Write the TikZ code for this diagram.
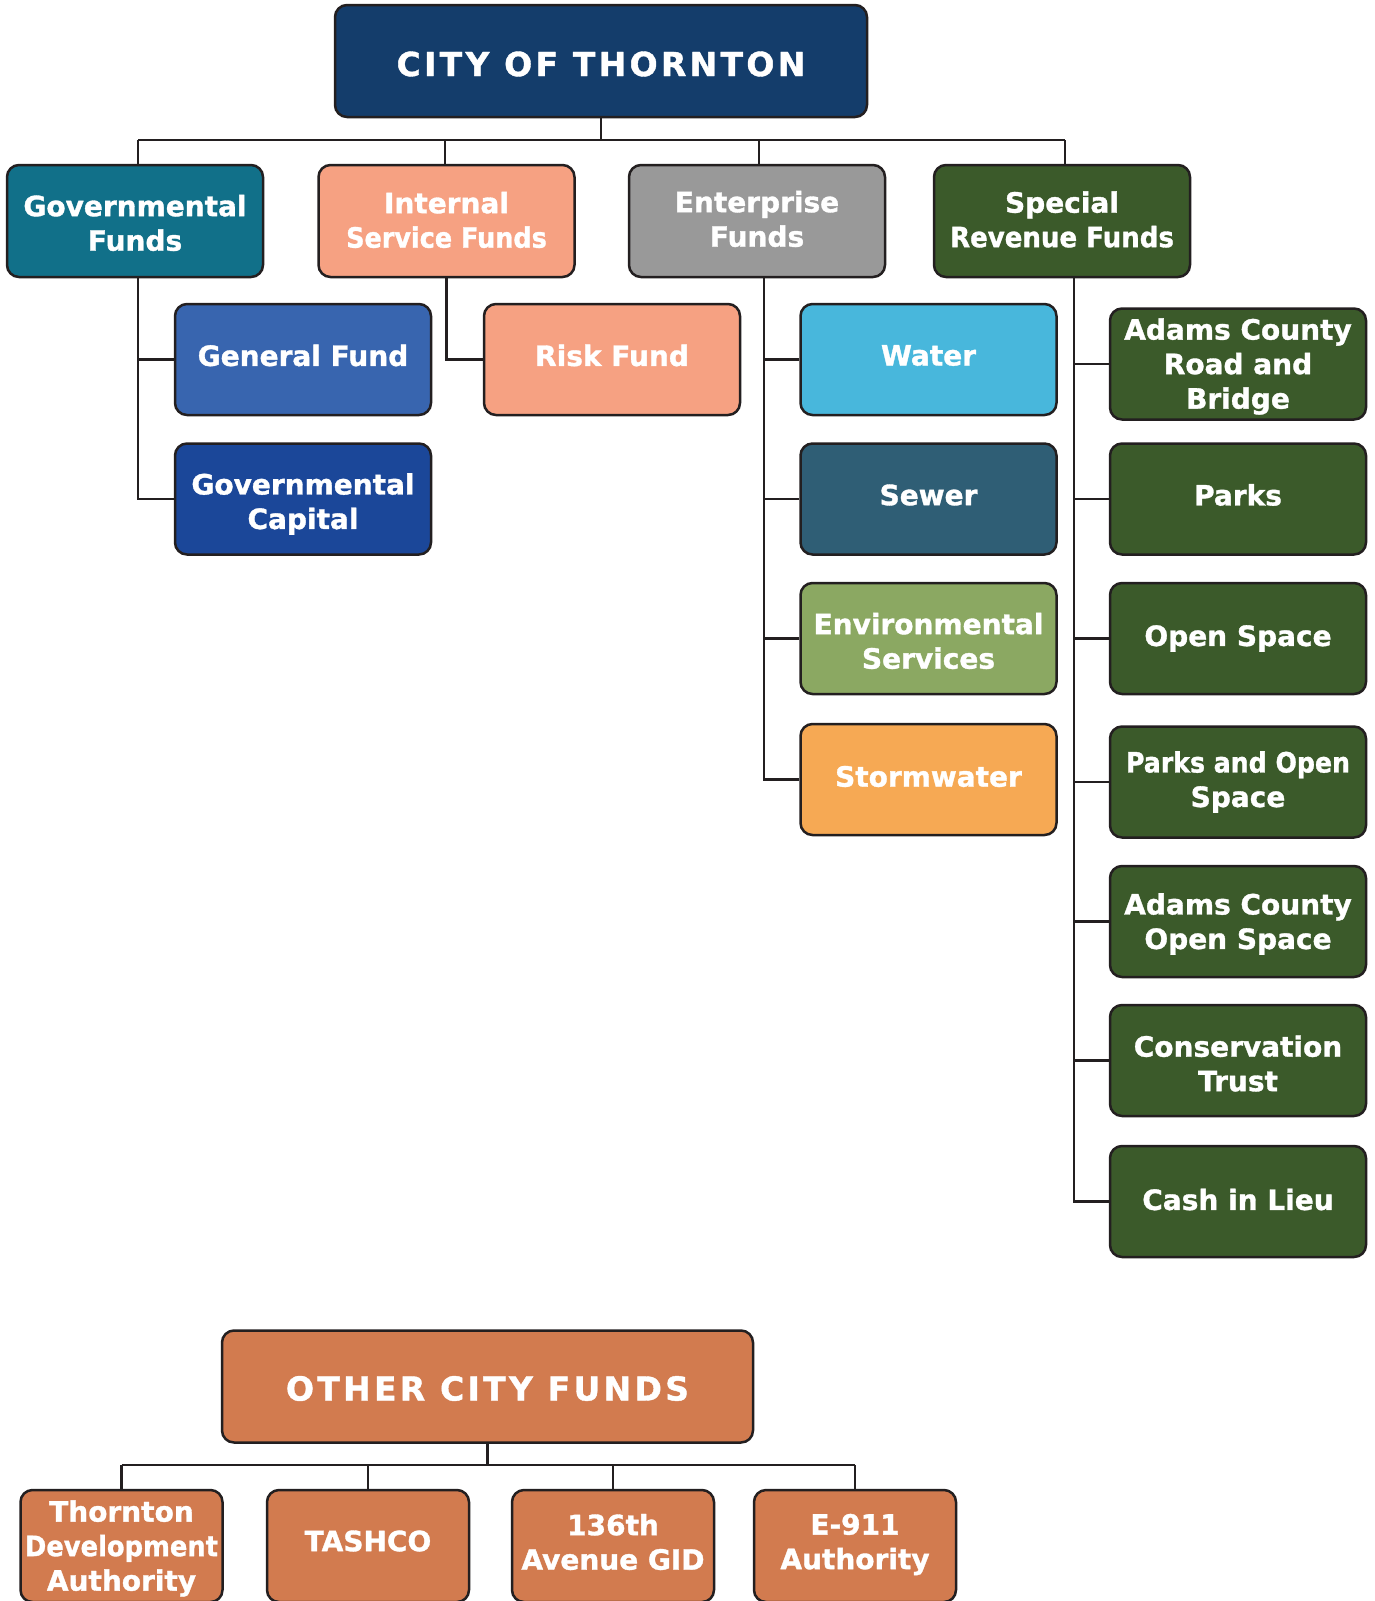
\documentclass[tikz,border=0pt]{standalone}
\usepackage{fontspec}
\usepackage{graphicx}
\newfontfamily\boxfont{DejaVu Sans}[BoldFeatures={FakeBold=1.2}]
\newfontfamily\titlefont{DejaVu Sans}[LetterSpace=10,BoldFeatures={FakeBold=1.2}]
\definecolor{linec}{HTML}{231F20}
\definecolor{cnavy}{HTML}{143D6B}
\definecolor{cteal}{HTML}{117089}
\definecolor{csalmon}{HTML}{F6A182}
\definecolor{cgray}{HTML}{999999}
\definecolor{cgreen}{HTML}{3B5A2A}
\definecolor{cgenf}{HTML}{3865AF}
\definecolor{cgovc}{HTML}{1B4799}
\definecolor{cwater}{HTML}{48B7DC}
\definecolor{csewer}{HTML}{2F5E75}
\definecolor{cenv}{HTML}{8BA862}
\definecolor{cstorm}{HTML}{F6A954}
\definecolor{cother}{HTML}{D27B4F}
\tikzset{
  box/.style={draw=linec, line width=2.5pt, rounded corners=12pt, inner sep=0pt,
    minimum width=256pt, minimum height=111pt},
  titlebox/.style={box, minimum width=532pt, minimum height=112pt},
  lowbox/.style={box, minimum width=202pt, minimum height=112pt},
  txt/.style={inner sep=0pt, align=center, text=white,
    font=\boxfont\bfseries\fontsize{28}{34.5}\selectfont},
  titletxt/.style={inner sep=0pt, text=white,
    font=\titlefont\bfseries\fontsize{33}{40}\selectfont},
  conn/.style={draw=linec, line width=2.5pt}
}
% name, box style, fill, x, y, text, text shift
\newcommand\bx[7]{%
  \node[#2, fill=#3] (#1) at (#4,#5) {};
  \node[txt] (#1-t) at ([yshift=#7pt]#1.center) {#6};}
\begin{document}
\begin{tikzpicture}[x=1pt,y=-1pt]
\useasboundingbox (0,0) rectangle (1374,1601);
\clip (0,0) rectangle (1374,1601);
% top level
\node[titlebox, fill=cnavy] (city) at (601,61) {};
\node[titletxt] (city-t) at ([yshift=-3pt]city.center) {CITY OF THORNTON};
\bx{gov}{box,minimum height=112pt}{cteal}{135}{221}{Governmental\\Funds}{-2}
\bx{isf}{box,minimum height=112pt}{csalmon}{446.5}{221}{Internal\\\scalebox{0.91}[1]{Service Funds}}{1}
\bx{ent}{box,minimum height=112pt}{cgray}{757}{221}{Enterprise\\Funds}{2}
\bx{srf}{box,minimum height=112pt}{cgreen}{1062}{221}{Special\\\scalebox{0.93}[1]{Revenue Funds}}{1.5}
% governmental children
\bx{genf}{box}{cgenf}{303}{359.5}{General Fund}{4}
\bx{govc}{box}{cgovc}{303}{499}{Governmental\\Capital}{-5}
% internal service children
\bx{risk}{box}{csalmon}{612}{359.5}{Risk Fund}{4}
% enterprise children
\bx{water}{box}{cwater}{928.5}{359.5}{Water}{4}
\bx{sewer}{box}{csewer}{928.5}{499}{Sewer}{4}
\bx{env}{box}{cenv}{928.5}{638.5}{Environmental\\Services}{-2.5}
\bx{storm}{box}{cstorm}{928.5}{779.5}{Stormwater}{3}
% special revenue children
\bx{acrb}{box}{cgreen}{1238}{364}{Adams County\\Road and\\Bridge}{-2.5}
\bx{parks}{box}{cgreen}{1238}{499}{Parks}{4}
\bx{open}{box}{cgreen}{1238}{638.5}{Open Space}{0}
\bx{pos}{box}{cgreen}{1238}{782}{\scalebox{0.9}[1]{Parks and Open}\\Space}{0}
\bx{acos}{box}{cgreen}{1238}{921.5}{Adams County\\Open Space}{-2.5}
\bx{ct}{box}{cgreen}{1238}{1060.5}{Conservation\\Trust}{-3}
\bx{cash}{box}{cgreen}{1238}{1201.5}{Cash in Lieu}{2}
% other city funds
\node[titlebox, fill=cother, minimum width=531pt] (other) at (487.5,1386.5) {};
\node[titletxt] (other-t) at ([yshift=-2pt]other.center) {OTHER CITY FUNDS};
\bx{tda}{lowbox}{cother}{121.5}{1546}{Thornton\\\scalebox{0.92}[1]{Development}\\Authority}{-2.5}
\bx{tashco}{lowbox}{cother}{368}{1546}{TASHCO}{5}
\bx{gid}{lowbox}{cother}{613}{1546}{136th\\Avenue GID}{4}
\bx{e911}{lowbox}{cother}{855}{1546}{E-911\\Authority}{1.5}
% connectors top
\coordinate (bus) at (601,140);
\draw[conn] (city.south) -- (bus);
\foreach \n/\dx in {gov/3, isf/-1.5, ent/2, srf/3} {
  \draw[conn] ([xshift=\dx pt]\n.north) -- ([xshift=\dx pt]\n.north |- bus);
}
\draw[conn] ([xshift=3pt]gov.north |- bus) -- ([xshift=3pt]srf.north |- bus);
% governmental
\draw[conn] ([xshift=3pt]gov.south) |- (genf.west);
\draw[conn] ([xshift=3pt]gov.south) |- (govc.west);
% internal
\draw[conn] (isf.south) |- (risk.west);
% enterprise
\foreach \c in {water,sewer,env,storm} {
  \draw[conn] ([xshift=7pt]ent.south) |- (\c.west);
}
% special revenue
\foreach \c in {acrb,parks,open,pos,acos,ct,cash} {
  \draw[conn] ([xshift=12pt]srf.south) |- (\c.west);
}
% other
\coordinate (bus2) at (487.5,1465);
\draw[conn] (other.south) -- (bus2);
\draw[conn] (tda.north |- bus2) -- (e911.north |- bus2);
\foreach \c in {tda,tashco,gid,e911} {
  \draw[conn] (\c.north) -- (\c.north |- bus2);
}
\end{tikzpicture}
\end{document}
